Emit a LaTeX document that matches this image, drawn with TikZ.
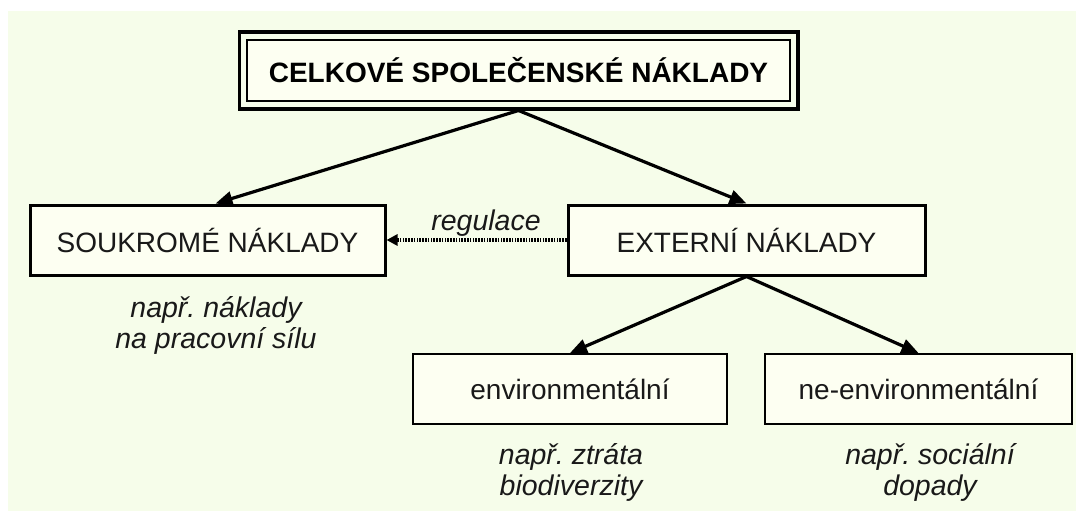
\documentclass[tikz,border=0pt]{standalone}
\usepackage{fontspec}
\setmainfont{Liberation Sans}
\frenchspacing
\usetikzlibrary{arrows.meta,fit,calc}
\definecolor{bgc}{RGB}{246,253,234}
\definecolor{boxc}{RGB}{253,255,242}
\definecolor{txt}{RGB}{25,25,25}
\begin{document}
\begin{tikzpicture}[x=1pt,y=-1pt,
  mainbox/.style={draw=black,fill=boxc,line width=3pt,minimum height=70pt,inner sep=0pt,text=txt,font=\fontsize{28}{32}\selectfont},
  subbox/.style={draw=black,fill=boxc,line width=2pt,minimum height=70pt,inner sep=0pt,text=txt,font=\fontsize{28}{32}\selectfont},
  note/.style={align=center,text=txt,font=\fontsize{28.5}{31}\selectfont\itshape\frenchspacing,inner sep=0pt},
  arr/.style={line width=3.2pt,-{Triangle[length=17pt,width=14pt]}},
  dotarr/.style={line width=3.4pt,dash pattern=on 1.5pt off 1.3pt,-{Triangle[length=11pt,width=11pt]}}
]
\useasboundingbox (0,0) rectangle (1076,511);
\fill[white] (0,0) rectangle (1076,511);
\fill[bgc] (8,11) rectangle (1076,511);

% title
\node[draw=black,fill=boxc,line width=2.2pt,minimum width=543pt,minimum height=61pt,inner sep=0pt,
      font=\fontsize{28}{32}\selectfont\bfseries,text=black] (title) at (518.5,70.5) {CELKOVÉ SPOLEČENSKÉ NÁKLADY};
\node[draw=black,line width=3.8pt,fit=(title),inner sep=6.5pt] (titleout) {};

% level 2
\node[mainbox,minimum width=355pt] (soukr) at (207.5,240) {SOUKROMÉ NÁKLADY};
\node[mainbox,minimum width=357pt] (ext) at (746.5,240) {EXTERNÍ NÁKLADY};

% level 3
\node[subbox,minimum width=314pt] (env) at (570,389) {environmentální};
\node[subbox,minimum width=307pt] (neenv) at (918.5,389) {ne-environmentální};

% notes
\node[note] (n1) at (216,325) {např. náklady\\na pracovní sílu};
\node[note] (n2) at (571,472) {např. ztráta\\biodiverzity};
\node[note] (n3) at (930,472) {např. sociální\\dopady};
\node[note,anchor=south] (reg) at (486,237) {regulace};

% connectors
\draw[arr] (titleout.south) -- ($(soukr.north)+(8pt,0pt)$);
\draw[arr] (titleout.south) -- (ext.north);
\draw[arr] (ext.south) -- (env.north);
\draw[arr] (ext.south) -- (neenv.north);
\draw[dotarr] (ext.west) -- (soukr.east);
\end{tikzpicture}
\end{document}
